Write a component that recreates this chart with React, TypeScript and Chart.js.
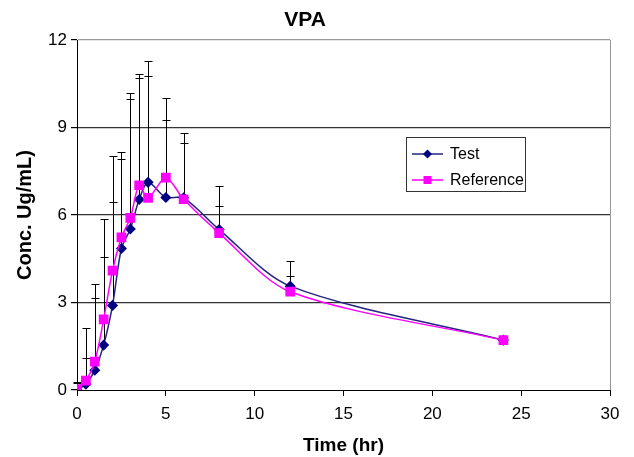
import React, { useEffect, useRef } from "react";
import { Chart, registerables } from "chart.js";

Chart.register(...registerables);

const chartTitle = "VPA";
const xTitle = "Time (hr)";
const yTitle = "Conc. Ug/mL)";
const times = [0, 0.5, 1, 1.5, 2, 2.5, 3, 3.5, 4, 5, 6, 8, 12, 24];
const testMean = [0.0, 0.2, 0.68, 1.54, 2.9, 4.85, 5.52, 6.53, 7.12, 6.6, 6.59, 5.5, 3.56, 1.71];
const refMean = [0.03, 0.32, 0.97, 2.42, 4.09, 5.23, 5.9, 7.02, 6.59, 7.28, 6.54, 5.38, 3.37, 1.71];
const testSD = [0.27, 1.93, 2.94, 4.34, 5.14, 3.31, 4.68, 4.29, 4.16, 3.4, 2.22, 1.49, 0.87, 0];
const refSD = [0.2, 0.79, 2.19, 2.13, 2.34, 2.69, 4.07, 3.68, 4.18, 1.99, 1.93, 0.93, 0.53, 0];
const seriesLabels = ["Test", "Reference"];

const FONT = "'Liberation Sans', Arial, sans-serif";

const errorBarPlugin = {
  id: "errorBars",
  beforeDatasetsDraw(chart: any) {
    const { ctx, scales } = chart;
    const x = scales.x;
    const y = scales.y;
    const sets = [
      { mean: testMean, sd: testSD },
      { mean: refMean, sd: refSD },
    ];
    ctx.save();
    ctx.strokeStyle = "#000";
    ctx.lineWidth = 1;
    sets.forEach((s) => {
      times.forEach((t, i) => {
        if (!s.sd[i]) return;
        const px = Math.round(x.getPixelForValue(t)) + 0.5;
        const py0 = y.getPixelForValue(s.mean[i]);
        const py1 = Math.round(y.getPixelForValue(s.mean[i] + s.sd[i])) + 0.5;
        ctx.beginPath();
        ctx.moveTo(px, py0);
        ctx.lineTo(px, py1);
        ctx.moveTo(px - 4, py1);
        ctx.lineTo(px + 4, py1);
        ctx.stroke();
      });
    });
    ctx.restore();
  },
};

const legendPlugin = {
  id: "boxLegend",
  afterDraw(chart: any) {
    const { ctx } = chart;
    const bx = 406.5, by = 137.5, bw = 119, bh = 54;
    ctx.save();
    ctx.fillStyle = "#fff";
    ctx.fillRect(bx, by, bw, bh);
    ctx.strokeStyle = "#333";
    ctx.lineWidth = 1;
    ctx.strokeRect(bx, by, bw, bh);
    const rows = [154, 180];
    chart.data.datasets.forEach((ds: any, i: number) => {
      const cy = rows[i];
      ctx.strokeStyle = ds.borderColor;
      ctx.lineWidth = 1.5;
      ctx.beginPath();
      ctx.moveTo(412, cy);
      ctx.lineTo(443, cy);
      ctx.stroke();
      ctx.fillStyle = ds.pointBackgroundColor;
      if (i === 0) {
        ctx.beginPath();
        ctx.moveTo(427.5, cy - 4.5);
        ctx.lineTo(432, cy);
        ctx.lineTo(427.5, cy + 4.5);
        ctx.lineTo(423, cy);
        ctx.closePath();
        ctx.fill();
      } else {
        ctx.fillRect(423.5, cy - 4, 8, 8);
      }
      ctx.fillStyle = "#000";
      ctx.font = `16px ${FONT}`;
      ctx.textBaseline = "middle";
      ctx.textAlign = "left";
      ctx.fillText(ds.label, 450, cy + 1);
    });
    ctx.restore();
  },
};

export default function App() {
  const ref = useRef<HTMLCanvasElement | null>(null);
  useEffect(() => {
    if (!ref.current) return;
    const chart = new Chart(ref.current, {
      type: "line",
      data: {
        datasets: [
          {
            label: seriesLabels[0],
            data: times.map((t, i) => ({ x: t, y: testMean[i] })),
            borderColor: "#24247f",
            backgroundColor: "#000080",
            pointBackgroundColor: "#000080",
            pointBorderColor: "#000080",
            pointStyle: "rectRot",
            pointRadius: 4.5,
            borderWidth: 1.5,
            tension: 0.3,
            order: 1,
          },
          {
            label: seriesLabels[1],
            data: times.map((t, i) => ({ x: t, y: refMean[i] })),
            borderColor: "#ff00ff",
            backgroundColor: "#ff00ff",
            pointBackgroundColor: "#ff00ff",
            pointBorderColor: "#ff00ff",
            pointStyle: "rect",
            pointRadius: 5.8,
            borderWidth: 1.5,
            tension: 0.3,
            order: 0,
          },
        ],
      },
      options: {
        animation: false,
        responsive: false,
        layout: { padding: { left: 0, right: 24, top: 0, bottom: 0 } },
        plugins: {
          legend: { display: false },
          tooltip: { enabled: false },
          title: {
            display: true,
            text: chartTitle,
            color: "#000",
            font: { family: FONT, size: 21, weight: "bold" },
            padding: { top: 8, bottom: 6.8 },
          },
        },
        scales: {
          x: {
            type: "linear",
            min: 0,
            max: 30,
            afterFit: (s: any) => {
              s.height = 67;
            },
            ticks: {
              stepSize: 5,
              color: "#000",
              padding: 8,
              font: { family: FONT, size: 17 },
            },
            grid: {
              drawOnChartArea: true,
              color: (c: any) => (c.tick && c.tick.value === 30 ? "#999" : "rgba(0,0,0,0)"),
              tickColor: "#000",
              tickLength: 6,
            },
            border: { color: "#000", width: 1 },
            title: {
              display: true,
              text: xTitle,
              color: "#000",
              font: { family: FONT, size: 19, weight: "bold" },
              padding: { top: 0, bottom: 0 },
            },
          },
          y: {
            min: 0,
            max: 12,
            afterFit: (s: any) => {
              s.width = 77;
            },
            ticks: {
              stepSize: 3,
              color: "#000",
              padding: 4,
              font: { family: FONT, size: 17 },
            },
            grid: {
              color: (c: any) =>
                c.tick && c.tick.value === 12 ? "#999" : c.tick && c.tick.value === 0 ? "rgba(0,0,0,0)" : "#333",
              tickColor: "#000",
              tickLength: 6,
              lineWidth: 1.2,
            },
            border: { color: "#000", width: 1 },
            title: {
              display: true,
              text: yTitle,
              color: "#000",
              font: { family: FONT, size: 20, weight: "bold" },
              padding: { top: 13, bottom: 0 },
            },
          },
        },
      },
      plugins: [errorBarPlugin, legendPlugin],
    } as any);
    return () => chart.destroy();
  }, []);
  return (
    <div style={{ position: "absolute", left: 0, top: 0, width: 634, height: 457, background: "#fff" }}>
      <canvas ref={ref} width={634} height={457} style={{ width: 634, height: 457 }} />
    </div>
  );
}
